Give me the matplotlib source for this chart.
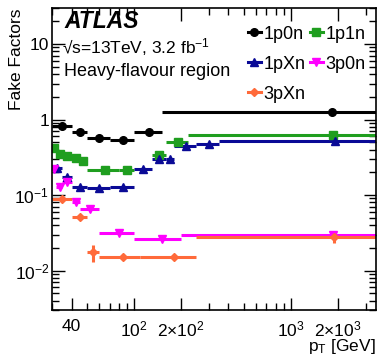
import numpy as np
import matplotlib.pyplot as plt
from matplotlib.lines import Line2D
from matplotlib.ticker import FixedLocator, FixedFormatter, LogLocator, NullFormatter

plt.rcParams['font.family'] = ['Liberation Sans', 'DejaVu Sans']
plt.rcParams['mathtext.fontset'] = 'custom'
plt.rcParams['mathtext.rm'] = 'Liberation Sans'
plt.rcParams['mathtext.it'] = 'Liberation Sans:italic'
plt.rcParams['mathtext.bf'] = 'Liberation Sans:bold'

# bin edges in pT [GeV] and fake factors
edges_1p0n = [30, 40, 50, 70, 100, 150, 3500]
ff_1p0n = [0.81, 0.69, 0.575, 0.54, 0.69, 1.24]

# the 100-130 bin of 1p1n is hidden behind 1pXn in the original
edges_1p1n = [30, 32, 35, 40, 45, 50, 80, 100, 130, 160, 220, 3500]
ff_1p1n = [0.42, 0.35, 0.33, 0.31, 0.284, 0.215, 0.215, np.nan, 0.34, 0.50, 0.63]

edges_1pXn = [30, 35, 40, 50, 70, 100, 130, 160, 180, 250, 350, 3500]
ff_1pXn = [0.229, 0.174, 0.128, 0.124, 0.128, 0.22, 0.30, 0.30, 0.44, 0.478, 0.525]

edges_3p0n = [30, 32, 35, 40, 45, 60, 100, 200, 3500]
ff_3p0n = [0.222, 0.128, 0.149, 0.081, 0.065, 0.031, 0.026, 0.030]

edges_3pXn = [30, 40, 50, 60, 110, 250, 3500]
ff_3pXn = [0.088, 0.051, 0.0174, 0.0151, 0.0151, 0.0276]
err_3pXn = [0.005, 0.004, 0.0043, 0.0012, 0.0008, 0.0045]

series = [
    ('1p0n', edges_1p0n, ff_1p0n, None, 'o', 'black'),
    ('1p1n', edges_1p1n, ff_1p1n, None, 's', '#1f9e1f'),
    ('1pXn', edges_1pXn, ff_1pXn, None, '^', '#0a0a96'),
    ('3p0n', edges_3p0n, ff_3p0n, None, 'v', '#ff00ff'),
    ('3pXn', edges_3pXn, ff_3pXn, err_3pXn, 'D', '#ff6a3a'),
]

fig = plt.figure(figsize=(3.78, 3.57), dpi=100)
ax = fig.add_axes([52 / 378, 1 - 310 / 357, 324 / 378, 302 / 357])

handles = {}
for name, edges, vals, err, mk, col in series:
    edges = np.array(edges, dtype=float)
    vals = np.array(vals)
    cen = 0.5 * (edges[:-1] + edges[1:])
    xerr = [cen - edges[:-1], edges[1:] - cen]
    yerr = err if err is not None else 0.025 * vals
    ms = 5.5 if mk != 'D' else 4.5
    ax.errorbar(cen, vals, xerr=xerr, yerr=yerr, fmt=mk, color=col,
                ms=ms, lw=2.2, elinewidth=2.2, capsize=0)
    handles[name] = Line2D([], [], color=col, marker=mk, ms=ms, lw=2.2)

ax.set_xscale('log')
ax.set_yscale('log')
ax.set_xlim(30, 3500)
ax.set_ylim(0.003, 30)

xt = [40, 100, 200, 1000, 2000]
ax.xaxis.set_major_locator(FixedLocator(xt))
ax.xaxis.set_major_formatter(FixedFormatter(['40', r'$10^2$', r'$2{\times}10^2$', r'$10^3$', r'$2{\times}10^3$']))
ax.xaxis.set_minor_locator(LogLocator(base=10, subs=np.arange(2, 10)))
ax.xaxis.set_minor_formatter(NullFormatter())

yt = [0.01, 0.1, 1, 10]
ax.yaxis.set_major_locator(FixedLocator(yt))
ax.yaxis.set_major_formatter(FixedFormatter([r'$10^{-2}$', r'$10^{-1}$', '1', '10']))
ax.yaxis.set_minor_locator(LogLocator(base=10, subs=np.arange(2, 10)))
ax.yaxis.set_minor_formatter(NullFormatter())

ax.tick_params(which='both', direction='in', top=True, right=True, labelsize=12.5, width=1)
ax.tick_params(which='major', length=9)
ax.tick_params(which='minor', length=5)
ax.tick_params(axis='x', pad=6.5)
ax.tick_params(axis='y', pad=2)
for s in ax.spines.values():
    s.set_linewidth(1.2)

ax.set_ylabel('Fake Factors', fontsize=12.5, loc='top')
ax.yaxis.set_label_coords(-0.086, 1.0)
ax.set_xlabel(r'p$_{\mathrm{T}}$ [GeV]', fontsize=12.5, loc='right')
ax.xaxis.set_label_coords(1.0, -0.09)

order = ['1p0n', '1pXn', '3pXn', '1p1n', '3p0n']
ax.legend([handles[k] for k in order], order, ncol=2, frameon=False,
          loc='upper left', bbox_to_anchor=(0.583, 0.965), fontsize=13,
          handlelength=0.7, handletextpad=0.15, columnspacing=0.25,
          labelspacing=0.72, borderaxespad=0)

fig.text(64 / 378, 1 - 22 / 357, 'ATLAS', fontsize=16.5, fontweight='bold',
         fontstyle='italic', va='center', ha='left')
fig.text(62 / 378, 1 - 47 / 357, '√s=13TeV, 3.2 fb$^{-1}$', fontsize=12.5,
         va='center', ha='left')
fig.text(64 / 378, 1 - 72 / 357, 'Heavy-flavour region', fontsize=13,
         va='center', ha='left')

fig.savefig('out.png', dpi=100)
